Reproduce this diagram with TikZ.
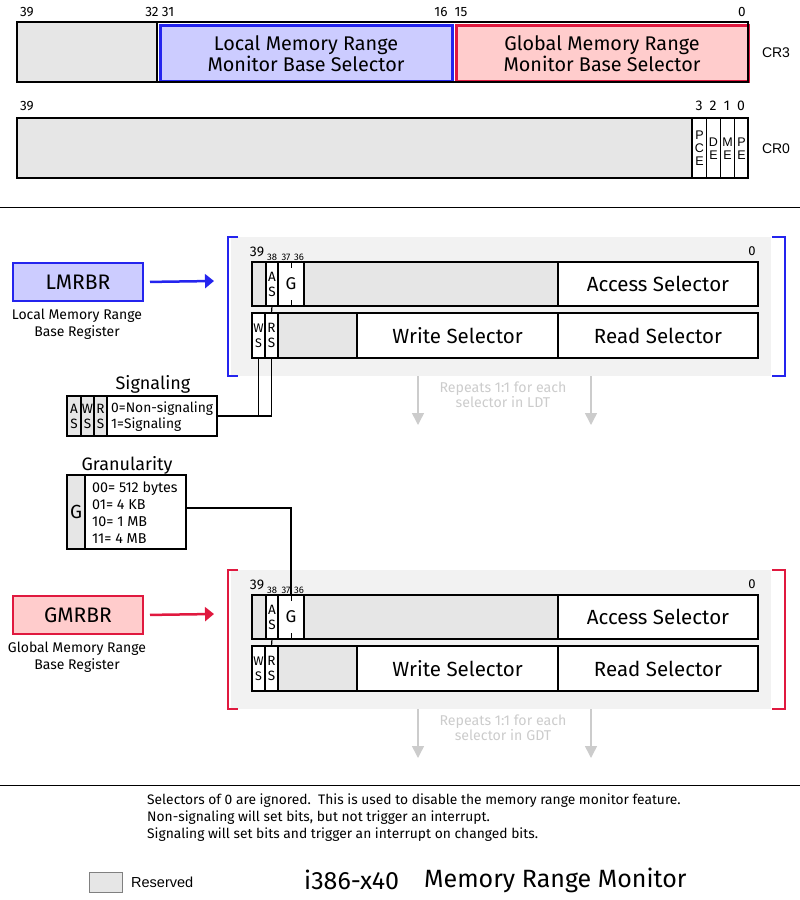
\documentclass[tikz,border=0pt]{standalone}
\usepackage{fontspec}
\setmainfont{Fira Sans}
\newfontfamily\arialf{Liberation Sans}
\usetikzlibrary{arrows.meta}
\definecolor{resv}{HTML}{E6E6E6}
\definecolor{bgg}{HTML}{F2F2F2}
\definecolor{lblue}{HTML}{CCCCFF}
\definecolor{dblue}{HTML}{2424EE}
\definecolor{lred}{HTML}{FFCCCC}
\definecolor{dred}{HTML}{E0193F}
\definecolor{faint}{HTML}{CCCCCC}
\newcommand\fsz[2]{\fontsize{#1}{#2}\selectfont}
% #1 prefix, #2 y offset, #3 colour, #4 fill, #5 box label, #6 caption first line, #7 LDT/GDT
\newcommand\regsec[7]{%
\begin{scope}[shift={(0,#2)}]
\fill[bgg] (231,237) rectangle (771,376);
\draw[#3, line width=2pt] (238,237) -- (228,237) -- (228,376) -- (238,376);
\draw[#3, line width=2pt] (772,237) -- (785,237) -- (785,376) -- (772,376);
% row 1
\node[cell={14}{44}, fill=resv] (#1ra) at (252,262) {};
\node[cell={12}{44}, fill=white, font=\fsz{13.5}{15}] (#1as) at (266,262) {A\\S};
\node[cell={26}{44}, fill=white, font=\fsz{17}{17}] (#1g) at (278,262) {G};
\node[cell={254}{44}, fill=resv] (#1rb) at (304,262) {};
\node[cell={200}{44}, fill=white, font=\fsz{20.5}{20}] (#1acc) at (558,262) {Access Selector};
\draw[line width=1pt] (#1g.north) -- ++(0,6) (#1g.south) -- ++(0,-6);
\draw[line width=2.5pt] (252,262) rectangle (758,306);
% row 2
\node[cell={13}{45}, fill=white, font=\fsz{12.5}{15}] (#1ws) at (252,313) {W\\S};
\node[cell={13}{45}, fill=white, font=\fsz{13.5}{15}] (#1rs) at (265,313) {R\\S};
\node[cell={79}{45}, fill=resv] (#1rc) at (278,313) {};
\node[cell={201}{45}, fill=white, font=\fsz{20.5}{20}] (#1wr) at (357,313) {Write Selector};
\node[cell={200}{45}, fill=white, font=\fsz{20.5}{20}] (#1rd) at (558,313) {Read Selector};
\draw[line width=2.5pt] (252,313) rectangle (758,358);
\draw[line width=1.2pt] (#1as.south) -- (#1rs.north);
% bit labels
\node[font=\fsz{14}{14}] (#1b39) at (257,252) {39};
\node[font=\fsz{9.5}{9.5}] (#1b38) at (272,257) {38};
\node[font=\fsz{9.5}{9.5}] (#1b37) at (286,257) {37};
\node[font=\fsz{9.5}{9.5}] (#1b36) at (299,257) {36};
\node[font=\fsz{13}{13}] (#1b0) at (752,251) {0};
% register box
\node[draw=#3, fill=#4, line width=2pt, minimum width=130, minimum height=38, anchor=north west, inner sep=0pt, font=\fsz{21}{21}] (#1box) at (12,262) {#5};
\node[font=\fsz{14}{17}, align=center] (#1cap) at (77,324) {#6\\Base Register};
\coordinate (#1tip) at (214,281);
\draw[#3, line width=2.5pt, shorten <=6pt, -{Triangle[length=9pt,width=14pt]}] (#1box.east) -- (#1tip);
% repeats
\coordinate (#1ra1) at (418,376); \coordinate (#1ra2) at (418,425);
\coordinate (#1rb1) at (591,376); \coordinate (#1rb2) at (591,425);
\draw[faint, line width=1.5pt, -{Triangle[length=12pt,width=12pt]}] (#1ra1) -- (#1ra2);
\draw[faint, line width=1.5pt, -{Triangle[length=12pt,width=12pt]}] (#1rb1) -- (#1rb2);
\node[font=\fsz{14.2}{15}, text=faint, align=center] (#1rep) at (503,395) {Repeats 1:1 for each\\selector in #7};
\end{scope}}
\begin{document}
\begin{tikzpicture}[x=1pt,y=-1pt,
  cell/.style 2 args={draw, line width=1.5pt, minimum width=#1, minimum height=#2, anchor=north west, inner sep=0pt, outer sep=0pt, align=center},
  lbl/.style={font=\fsz{13.5}{13.5}},
  crl/.style={font=\arialf\fsz{14}{14}},
  bitc/.style={draw, line width=1pt, fill=white, minimum width=14, minimum height=60, anchor=north west, inner sep=0pt, align=center, font=\arialf\fsz{12.5}{13}}]
\useasboundingbox (0,0) rectangle (800,900);
% ---------- CR3
\node[cell={140}{60}, fill=resv] (c3r) at (17,22) {};
\node[draw=dblue, fill=lblue, line width=3pt, minimum width=292, minimum height=56, anchor=north west, inner sep=0pt, align=center, font=\fsz{19.8}{21}] (c3l) at (158.5,24) {Local Memory Range\\Monitor Base Selector};
\node[draw=dred, fill=lred, line width=3pt, minimum width=292, minimum height=56, anchor=north west, inner sep=0pt, align=center, font=\fsz{19.8}{21}] (c3g) at (454.5,24) {Global Memory Range\\Monitor Base Selector};
\draw[line width=2.5pt] (17,22) rectangle (748,82);
\node[lbl] (t39) at (27,12) {39};
\node[lbl] (t32) at (152,12) {32};
\node[lbl] (t31) at (168,12) {31};
\node[lbl] (t16) at (441,12) {16};
\node[lbl] (t15) at (461,12) {15};
\node[lbl] (t0) at (742,12) {0};
\node[crl] (cr3) at (776,53) {CR3};
% ---------- CR0
\node[cell={675}{60}, fill=resv] (c0r) at (17,118) {};
\node[bitc] (pce) at (692,118) {P\\C\\E};
\node[bitc] (dee) at (706,118) {D\\E};
\node[bitc] (mee) at (720,118) {M\\E};
\node[bitc] (pee) at (734,118) {P\\E};
\draw[line width=2.5pt] (17,118) rectangle (748,178);
\node[lbl] (u39) at (27,106) {39};
\node[font=\fsz{14}{14}] (u3) at (699,106) {3};
\node[font=\fsz{14}{14}] (u2) at (713,106) {2};
\node[font=\fsz{14}{14}] (u1) at (727,106) {1};
\node[font=\fsz{14}{14}] (u0) at (741,106) {0};
\node[crl] (cr0) at (776,149) {CR0};
\draw[line width=1pt] (0,207) -- (800,207);
% ---------- register sections
\regsec{l}{0}{dblue}{lblue}{LMRBR}{Local Memory Range}{LDT}
\regsec{g}{333}{dred}{lred}{GMRBR}{Global Memory Range}{GDT}
% ---------- Signaling
\node[font=\fsz{18}{18}] (sigt) at (153,384) {Signaling};
\node[cell={14}{40}, fill=resv, font=\fsz{13.5}{15}] (sas) at (67,396) {A\\S};
\node[cell={13}{40}, fill=resv, font=\fsz{13.5}{15}] (sws) at (81,396) {W\\S};
\node[cell={13}{40}, fill=resv, font=\fsz{13.5}{15}] (srs) at (94,396) {R\\S};
\node[cell={110}{40}, fill=white] (stxt) at (107,396) {};
\node[anchor=west, align=left, font=\fsz{13.8}{16}, inner sep=0pt] (stt) at (111,416.5) {0=Non-signaling\\1=Signaling};
\draw[line width=1.5pt] (stxt.east) -- (lrs.south |- stxt.east) -- (lrs.south);
\draw[line width=1.5pt] (lws.south) -- (lws.south |- stxt.east);
% ---------- Granularity
\node[font=\fsz{18}{18}] (grt) at (127,465) {Granularity};
\node[cell={18}{74}, fill=resv, font=\fsz{19}{19}] (ggc) at (67,475) {G};
\node[cell={101}{74}, fill=white] (gtxt) at (85,475) {};
\node[anchor=west, align=left, font=\fsz{14.3}{17}, inner sep=0pt] (gtt) at (92,512.5) {00= 512 bytes\\01= 4 KB\\10= 1 MB\\11= 4 MB};
\coordinate (gj) at ([yshift=4pt]gtxt.east);
\draw[line width=1.2pt] (gj) -- (gg.north |- gj) -- (gg.north);
% ---------- bottom
\draw[line width=1pt] (0,785) -- (800,785);
\node[anchor=north west, align=left, font=\fsz{13.8}{17}, inner sep=0pt] (notes) at (147,794) {Selectors of 0 are ignored.\ \ This is used to disable the memory range monitor feature.\\ Non-signaling will set bits, but not trigger an interrupt.\\ Signaling will set bits and trigger an interrupt on changed bits.};
\node[draw=gray, fill=resv, line width=0.8pt, minimum width=33, minimum height=20, anchor=north west, inner sep=0pt] (leg) at (89,872) {};
\node[anchor=west, font=\arialf\fsz{14.5}{14}, inner sep=0pt] (legt) at (131,882) {Reserved};
\node[anchor=west, font=\fsz{25}{25}, inner sep=0pt] (tt1) at (304,880) {i386-x40};
\node[anchor=west, font=\fsz{25}{25}, inner sep=0pt] (tt2) at (424,880) {Memory Range Monitor};
\end{tikzpicture}
\end{document}
